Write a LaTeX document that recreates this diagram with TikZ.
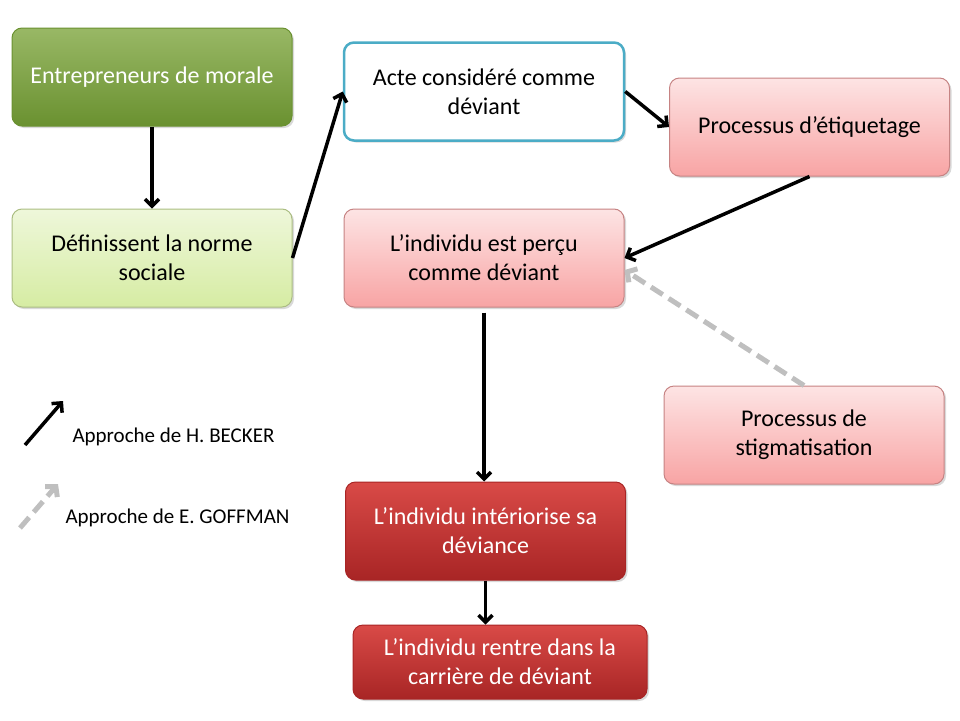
\documentclass[tikz,border=0pt]{standalone}
\usepackage{fontspec}
\setmainfont{Carlito}
\usetikzlibrary{arrows.meta,shadows}

\definecolor{vertfonce}{HTML}{7FA63F}
\definecolor{vertbas}{HTML}{6A9130}
\definecolor{vertclair}{HTML}{EEF7DA}
\definecolor{vertclairbas}{HTML}{D6ECA3}
\definecolor{rosehaut}{HTML}{FDE4E4}
\definecolor{rosebas}{HTML}{F8A4A4}
\definecolor{rougehaut}{HTML}{D94A47}
\definecolor{rougebas}{HTML}{A82525}
\definecolor{bleuacte}{HTML}{4BACC6}
\definecolor{grisgoff}{HTML}{BFBFBF}

\tikzset{
  boite/.style={rounded corners=10pt, minimum width=280pt, minimum height=98pt,
    align=center, font=\fontsize{24}{29}\selectfont, line width=1pt,
    drop shadow={opacity=.3, shadow xshift=2pt, shadow yshift=-2pt}},
  moraleb/.style={boite, draw=vertbas, top color=vertfonce!80!white, bottom color=vertbas, text=white},
  normeb/.style={boite, draw=vertclairbas!80!black, top color=vertclair, bottom color=vertclairbas},
  acteb/.style={boite, draw=bleuacte, line width=2.5pt, fill=white, drop shadow={opacity=0}},
  roseb/.style={boite, draw=rosebas!80!black, top color=rosehaut, bottom color=rosebas},
  rougeb/.style={boite, draw=rougebas, top color=rougehaut, bottom color=rougebas, text=white},
  becker/.style={line width=3.5pt, -{Straight Barb[length=7pt,width=14pt]}},
  goffman/.style={line width=5pt, grisgoff, dash pattern=on 14pt off 7pt,
    -{Straight Barb[length=7pt,width=16pt]}}
}

\begin{document}
\begin{tikzpicture}[x=1pt,y=-1pt]
  \useasboundingbox (0,0) rectangle (960,720);

  \node[moraleb] (morale) at (152,77) {Entrepreneurs de morale};
  \node[normeb] (norme) at (152,258) {Définissent la norme\\sociale};
  \node[acteb] (acte) at (484,91.5) {Acte considéré comme\\déviant};
  \node[roseb] (etiquetage) at (809.5,127) {Processus d’étiquetage};
  \node[roseb] (percu) at (484,258) {L’individu est perçu\\comme déviant};
  \node[roseb] (stigmate) at (804,435) {Processus de\\stigmatisation};
  \node[rougeb] (interieur) at (485.5,531) {L’individu intériorise sa\\déviance};
  \node[rougeb, minimum width=294pt, minimum height=74pt] (carriere) at (500,662)
    {L’individu rentre dans la\\carrière de déviant};

  \draw[becker] (morale) -- (norme);
  \draw[becker] (norme.east) -- (acte.west);
  \draw[becker] (acte.east) -- (etiquetage.west);
  \draw[becker] (etiquetage.south) -- (percu.east);
  \draw[becker, shorten <=5pt] (percu.south) -- (percu.south |- interieur.north);
  \draw[becker] (interieur.south) -- (interieur.south |- carriere.north);
  \draw[goffman] (stigmate.north) -- ([yshift=-12pt]percu.east);

  % legende
  \coordinate (bA) at (25,445);
  \coordinate (bB) at (63,401);
  \coordinate (gA) at (20,528);
  \coordinate (gB) at (58,484);
  \draw[becker] (bA) -- (bB);
  \draw[goffman] (gA) -- (gB);
  \node[anchor=west, font=\fontsize{21}{25}\selectfont] (legbecker) at (69,437) {Approche de H. BECKER};
  \node[anchor=west, font=\fontsize{21}{25}\selectfont] (leggoffman) at (62,518) {Approche de E. GOFFMAN};
\end{tikzpicture}
\end{document}
